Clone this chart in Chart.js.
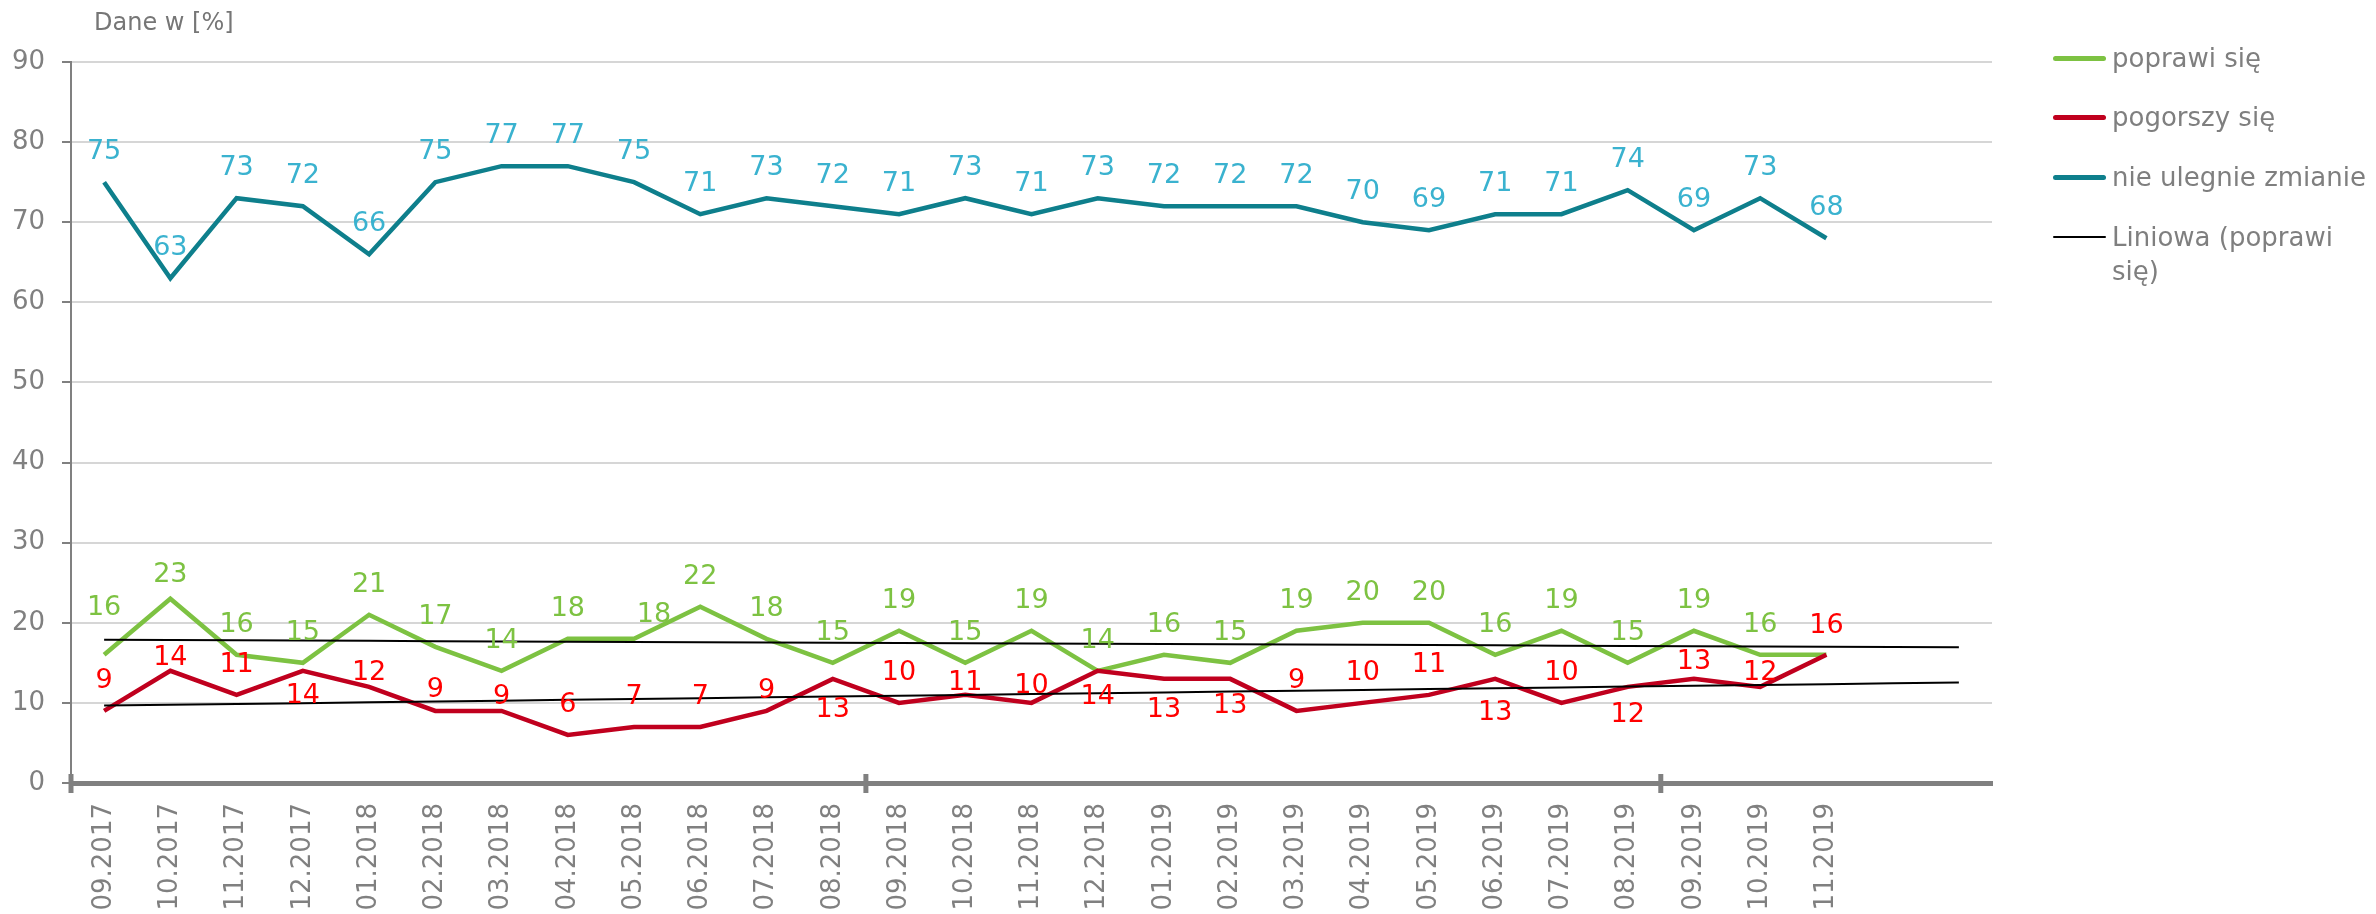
<!DOCTYPE html>
<html><head><meta charset="utf-8">
<script src="https://cdn.jsdelivr.net/npm/chart.js@4.4.0/dist/chart.umd.min.js"></script>
<style>
html,body{margin:0;padding:0;background:#fff;}
#wrap{position:relative;width:2376px;height:914px;overflow:hidden;background:#fff;}
#c{position:absolute;left:0;top:0;}
.title{position:absolute;left:94px;top:8px;font:24px "DejaVu Sans";color:#767676;white-space:nowrap;}
.leg{position:absolute;left:2053px;width:320px;font:26px "DejaVu Sans";color:#7f7f7f;line-height:34px;}
.leg .sw{position:absolute;left:0;width:53px;border-radius:3px;}
.leg .tx{position:absolute;left:59px;top:0;}
</style></head>
<body><div id="wrap"><canvas id="c" width="2376" height="914"></canvas>
<div class="title">Dane w [%]</div>
<div id="legend"></div></div>
<script>
// ---- data ----
const categories = ['09.2017','10.2017','11.2017','12.2017','01.2018','02.2018','03.2018','04.2018','05.2018','06.2018','07.2018','08.2018','09.2018','10.2018','11.2018','12.2018','01.2019','02.2019','03.2019','04.2019','05.2019','06.2019','07.2019','08.2019','09.2019','10.2019','11.2019'];
const forecastSlots = ['', ''];
const improve   = [16,23,16,15,21,17,14,18,18,22,18,15,19,15,19,14,16,15,19,20,20,16,19,15,19,16,16];
const worsen    = [9,14,11,14,12,9,9,6,7,7,9,13,10,11,10,14,13,13,9,10,11,13,10,12,13,12,16];
const unchanged = [75,63,73,72,66,75,77,77,75,71,73,72,71,73,71,73,72,72,72,70,69,71,71,74,69,73,68];
const seriesNames = ['poprawi się','pogorszy się','nie ulegnie zmianie','Liniowa (poprawi się)','Liniowa (pogorszy się)'];
const yTickValues = [0,10,20,30,40,50,60,70,80,90];

// ---- styles ----
const C = {green:'#7dc242', red:'#c0001e', redLabel:'#ff0000', teal:'#0e7f8c', tealLabel:'#3ab2cf', grey:'#808080', grid:'#d6d6d6', text:'#7f7f7f'};
const greenLabelShift = {0:[0,-50],1:[0,-27],8:[20,-27],26:null};
const redLabelDy = [-33,-16,-33,22,-17,-24,-17,-33,-33,-33,-23,28,-33,-15,-20,23,28,24,-33,-33,-33,31,-33,25,-20,-17,-32];

// least-squares linear trendline (like the spreadsheet "Liniowa"), extended over forecast slots
function linearTrend(vals, len){
  const n = vals.length; let sx=0, sy=0, sxy=0, sxx=0;
  vals.forEach((v,i)=>{sx+=i; sy+=v; sxy+=i*v; sxx+=i*i;});
  const b = (n*sxy - sx*sy)/(n*sxx - sx*sx), a = (sy - b*sx)/n;
  return Array.from({length:len}, (_,i)=>a+b*i);
}
const labels = categories.concat(forecastSlots);

const valueLabels = {
  id:'valueLabels',
  afterDatasetsDraw(chart){
    const ctx = chart.ctx, fs = 27;
    chart.data.datasets.forEach((ds,di)=>{
      if(!ds.labelColor) return;
      const meta = chart.getDatasetMeta(di);
      ctx.save();
      ctx.font = fs + 'px "DejaVu Sans"';
      ctx.fillStyle = ds.labelColor;
      ctx.textAlign = 'center'; ctx.textBaseline = 'alphabetic';
      meta.data.forEach((pt,i)=>{
        const sh = ds.labelShift(i);
        if(sh === null) return;
        ctx.fillText(String(ds.data[i]), pt.x + sh[0], pt.y + sh[1] + 0.365*fs);
      });
      ctx.restore();
    });
  }
};
const axisMarks = {
  id:'axisMarks',
  afterDraw(chart){
    const xs = chart.scales.x, ctx = chart.ctx, y0 = chart.chartArea.bottom;
    ctx.save(); ctx.strokeStyle = C.grey; ctx.lineWidth = 5;
    for(let i=0;i<labels.length;i+=12){
      const x = xs.getPixelForValue(i-0.5);
      ctx.beginPath(); ctx.moveTo(x, y0-9); ctx.lineTo(x, y0+10); ctx.stroke();
    }
    ctx.restore();
  }
};

// legend (HTML text)
const legendItems = [
  {name:seriesNames[0], color:C.green, w:5, top:41},
  {name:seriesNames[1], color:C.red, w:5, top:100},
  {name:seriesNames[2], color:C.teal, w:5, top:160},
  {name:seriesNames[3], color:'#000', w:2, top:220, wrap:true}
];
const lg = document.getElementById('legend');
legendItems.forEach(it=>{
  const d = document.createElement('div'); d.className='leg'; d.style.top = it.top+'px';
  const sw = document.createElement('div'); sw.className='sw';
  sw.style.background = it.color; sw.style.height = it.w+'px'; sw.style.top = (17 - it.w/2)+'px';
  const tx = document.createElement('div'); tx.className='tx'; tx.textContent = it.name;
  tx.style.whiteSpace = it.wrap ? 'normal' : 'nowrap'; if(it.wrap) tx.style.width='240px';
  d.appendChild(sw); d.appendChild(tx); lg.appendChild(d);
});

new Chart(document.getElementById('c'), {
  type:'line',
  data:{
    labels: labels,
    datasets:[
      {label:seriesNames[3], data:linearTrend(improve, labels.length), borderColor:'#000', borderWidth:2, order:0},
      {label:seriesNames[4], data:linearTrend(worsen, labels.length), borderColor:'#000', borderWidth:2, order:0},
      {label:seriesNames[1], data:worsen, borderColor:C.red, borderWidth:4.5, order:1, labelColor:C.redLabel, labelShift:i=>[0, redLabelDy[i]]},
      {label:seriesNames[0], data:improve, borderColor:C.green, borderWidth:4.5, order:2, labelColor:C.green, labelShift:i=>(i in greenLabelShift ? greenLabelShift[i] : [0,-33])},
      {label:seriesNames[2], data:unchanged, borderColor:C.teal, borderWidth:4.5, order:3, labelColor:C.tealLabel, labelShift:i=>[0,-33]}
    ]
  },
  options:{
    responsive:false, animation:false,
    layout:{padding:{top:62, right:384, left:0, bottom:0}},
    elements:{point:{radius:0, hoverRadius:0}, line:{tension:0, borderCapStyle:'butt', borderJoinStyle:'miter'}},
    plugins:{legend:{display:false}, tooltip:{enabled:false}, title:{display:false}},
    scales:{
      x:{
        type:'category', offset:true,
        grid:{display:true, drawOnChartArea:false, drawTicks:false},
        border:{display:true, color:C.grey, width:5},
        ticks:{autoSkip:false, minRotation:90, maxRotation:90, padding:20, color:C.grey, font:{family:'DejaVu Sans', size:26}},
        afterFit(s){ s.height = 131; }
      },
      y:{
        min:0, max:90,
        afterBuildTicks(s){ s.ticks = yTickValues.map(v=>({value:v})); },
        grid:{color:C.grid, lineWidth:2, drawTicks:true, tickLength:9, tickColor:C.grey, tickWidth:2},
        border:{display:true, color:C.grey, width:2},
        ticks:{padding:17, color:C.grey, font:{family:'DejaVu Sans', size:26}},
        afterFit(s){ s.width = 71; }
      }
    }
  },
  plugins:[valueLabels, axisMarks]
});
</script>
</body></html>
